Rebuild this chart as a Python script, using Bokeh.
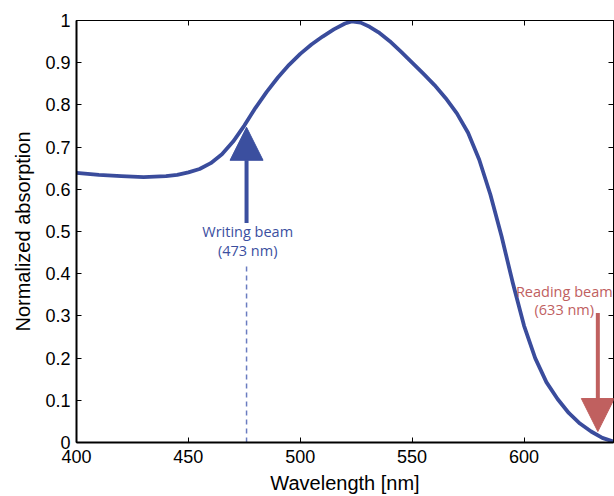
from bokeh.plotting import figure
from bokeh.models import Range1d, LinearAxis, FixedTicker, Arrow, NormalHead, CustomJSTickFormatter
from bokeh.core.properties import value
from bokeh.embed import file_html
from bokeh.resources import INLINE

# ---- data ----
wavelength = [400, 410, 420, 430, 440, 445, 450, 455, 460, 465, 470, 475, 480,
              485, 490, 495, 500, 505, 510, 515, 520, 523, 527, 531, 535, 540,
              545, 550, 555, 560, 565, 570, 575, 580, 585, 590, 595, 600, 605,
              610, 615, 620, 625, 630, 635, 640]
absorption = [0.639, 0.634, 0.631, 0.629, 0.631, 0.634, 0.640, 0.648, 0.662,
              0.683, 0.713, 0.751, 0.793, 0.831, 0.865, 0.895, 0.921, 0.943,
              0.962, 0.979, 0.993, 0.998, 0.995, 0.985, 0.972, 0.951, 0.926,
              0.900, 0.874, 0.847, 0.816, 0.780, 0.734, 0.670, 0.587, 0.488,
              0.378, 0.277, 0.200, 0.143, 0.103, 0.070, 0.045, 0.026, 0.011,
              0.002]

x_ticks = [400, 450, 500, 550, 600]
y_ticks = [0, 0.1, 0.2, 0.3, 0.4, 0.5, 0.6, 0.7, 0.8, 0.9, 1]
y_tick_labels = ["0", "0.1", "0.2", "0.3", "0.4", "0.5", "0.6", "0.7", "0.8", "0.9", "1"]

beam_nm = [476, 633]
beam_start = [0.52, 0.307]
beam_tip = [0.747, 0.026]
beam_colors = ["#3b4f9f", "#c0605f"]
label_line1 = ["Writing beam", "Reading beam"]
label_line2 = ["(473 nm)", "(633 nm)"]
label_x = [476.5, 618]
label_y1 = [0.499, 0.357]
label_y2 = [0.456, 0.314]
guide_top = 0.426

curve_color = "#3a4c9c"

p = figure(width=614, height=496, x_range=Range1d(400, 640), y_range=Range1d(0, 1),
           output_backend="svg", toolbar_location=None,
           min_border_left=76, min_border_right=1, min_border_top=20, min_border_bottom=53)
p.background_fill_color = "white"
p.border_fill_color = "white"
p.outline_line_color = "black"
p.outline_line_width = 1
p.xgrid.visible = False
p.ygrid.visible = False

tick_font = "Liberation Sans"

xa = p.xaxis[0]
ya = p.yaxis[0]
for ax in (xa, ya):
    ax.axis_line_width = 2
    ax.axis_line_color = "black"
    ax.major_tick_in = 5
    ax.major_tick_out = 0
    ax.major_tick_line_color = "black"
    ax.minor_tick_line_color = None
    ax.major_label_text_font = tick_font
    ax.major_label_text_font_size = "18px"
    ax.major_label_text_color = "black"
    ax.axis_label_text_font = tick_font
    ax.axis_label_text_font_size = "20px"
    ax.axis_label_text_font_style = "normal"
    ax.axis_label_text_color = "black"

xa.ticker = FixedTicker(ticks=x_ticks)
xa.axis_label = "Wavelength [nm]"
xa.major_label_standoff = 7
xa.axis_label_standoff = 6

ya.ticker = FixedTicker(ticks=y_ticks)
ya.major_label_overrides = {t: l for t, l in zip(y_ticks, y_tick_labels)}
ya.axis_label = "Normalized absorption"
ya.major_label_standoff = 6
ya.axis_label_standoff = 8

# top / right mirror axes (tick marks only)
blank = CustomJSTickFormatter(code="return '';")
top = LinearAxis(ticker=FixedTicker(ticks=x_ticks), formatter=blank)
right = LinearAxis(ticker=FixedTicker(ticks=y_ticks), formatter=blank)
for ax in (top, right):
    ax.major_tick_in = 5
    ax.major_tick_out = 0
    ax.minor_tick_line_color = None
    ax.major_label_standoff = 0
    ax.axis_line_color = "black"
    ax.axis_line_width = 1
p.add_layout(top, "above")
p.add_layout(right, "right")

# curve
p.line(wavelength, absorption, line_color=curve_color, line_width=3.8, line_join="round")

# dashed guide under writing beam
p.segment(x0=[beam_nm[0]], y0=[0], x1=[beam_nm[0]], y1=[guide_top],
          line_color="#6a7cc0", line_width=1.5, line_dash="5 4")

# arrows
for xb, ys, yt, c in zip(beam_nm, beam_start, beam_tip, beam_colors):
    p.add_layout(Arrow(x_start=xb, y_start=ys, x_end=xb, y_end=yt,
                       line_color=c, line_width=4,
                       end=NormalHead(size=33, fill_color=c, line_color=c, line_width=1)))

# labels
p.text(x=label_x, y=label_y1, text=label_line1, text_color=beam_colors,
       text_font=value("Open Sans"), text_font_size="14.5px",
       text_align="center", text_baseline="middle")
p.text(x=label_x, y=label_y2, text=label_line2, text_color=beam_colors,
       text_font=value("Open Sans"), text_font_size="14.5px",
       text_align="center", text_baseline="middle")

open("out.html", "w").write(file_html(p, INLINE))
